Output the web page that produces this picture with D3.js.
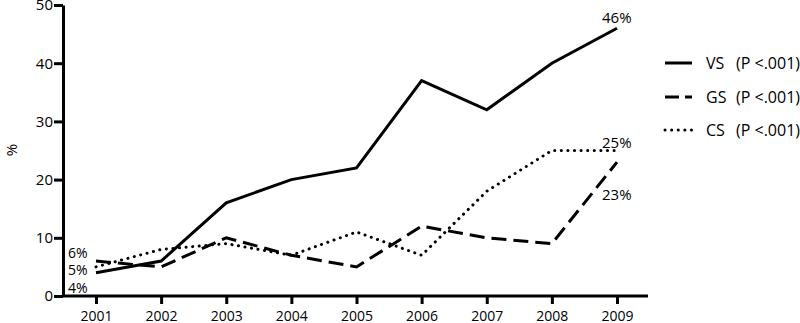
<!DOCTYPE html>
<html>
<head>
<meta charset="utf-8">
<script src="https://cdn.jsdelivr.net/npm/d3@7.9.0/dist/d3.min.js"></script>
<style>
  body { margin: 0; background: #fff; }
  svg { display: block; font-family: "Open Sans", sans-serif; }
  .axis path, .axis line { stroke: #000; stroke-width: 3; }
</style>
</head>
<body>
<svg id="chart" width="800" height="323"></svg>
<script>
// data
const years = [2001, 2002, 2003, 2004, 2005, 2006, 2007, 2008, 2009];
const vs = [4, 6, 16, 20, 22, 37, 32, 40, 46];
const gs = [6, 5, 10, 7, 5, 12, 10, 9, 23];
const cs = [5, 8, 9, 7, 11, 7, 18, 25, 25];
const seriesNames = ['VS', 'GS', 'CS'];
const pLabels = ['(P <.001)', '(P <.001)', '(P <.001)'];
const yTicks = [0, 10, 20, 30, 40, 50];

const svg = d3.select('#chart');

const x = d3.scaleLinear().domain([2001, 2009]).range([96, 617]);
const y = d3.scaleLinear().domain([0, 50]).range([296, 5]);

//dash styles per series
const dashes = { VS: null, GS: '15,7', CS: '0.1,6.5' };

const series = [
    { name: 'VS', values: vs },
    { name: 'GS', values: gs },
    { name: 'CS', values: cs }
];

//axes
svg.append('g')
    .attr('class', 'axis')
    .attr('transform', 'translate(63,0)')
    .call(d3.axisLeft(y).tickValues(yTicks).tickSize(9).tickSizeOuter(0).tickPadding(1))
    .call(g => g.attr('font-size', 15).attr('font-family', null))
    .call(g => g.selectAll('text').attr('fill', '#000'));

svg.append('g')
    .attr('class', 'axis')
    .attr('transform', 'translate(0,296)')
    .call(d3.axisBottom(x).tickValues(years).tickFormat(d3.format('d')).tickSize(8).tickSizeOuter(0).tickPadding(7))
    .call(g => g.attr('font-size', 14).attr('font-family', null))
    .call(g => g.selectAll('text').attr('fill', '#000'))
    .call(g => g.select('.domain').attr('d', 'M63,0H648'));

svg.append('text')
    .attr('transform', 'translate(17,150) rotate(-90)')
    .attr('text-anchor', 'middle')
    .attr('font-size', 15)
    .text('%');

//lines
const line = d3.line()
    .x((d, i) => x(years[i]))
    .y(d => y(d));

series.forEach(s => {
    svg.append('path')
        .datum(s.values)
        .attr('d', line)
        .attr('fill', 'none')
        .attr('stroke', '#000')
        .attr('stroke-width', 3)
        .attr('stroke-linecap', s.name === 'CS' ? 'round' : 'butt')
        .attr('stroke-dasharray', dashes[s.name]);
});

//end value labels
const labelStyle = sel => sel.attr('font-size', 15).attr('fill', '#000');
svg.append('text').attr('x', 602).attr('y', y(vs[8]) - 5).text(vs[8] + '%').call(labelStyle);
svg.append('text').attr('x', 602).attr('y', y(cs[8]) - 3).text(cs[8] + '%').call(labelStyle);
svg.append('text').attr('x', 602).attr('y', y(gs[8]) + 38).text(gs[8] + '%').call(labelStyle);

//start value labels, stacked tightly like the original
const startStyle = sel => sel.attr('font-size', 14).attr('fill', '#000');
svg.append('text').attr('x', 68).attr('y', 258).text(gs[0] + '%').call(startStyle);
svg.append('text').attr('x', 68).attr('y', 275).text(cs[0] + '%').call(startStyle);
svg.append('text').attr('x', 68).attr('y', 293).text(vs[0] + '%').call(startStyle);

//legend
const legendY = [63, 97, 130];
series.forEach((s, i) => {
    const g = svg.append('g').attr('transform', `translate(0,${legendY[i]})`);
    g.append('line')
        .attr('x1', 665).attr('x2', 692)
        .attr('stroke', '#000').attr('stroke-width', 3)
        .attr('stroke-linecap', s.name === 'CS' ? 'round' : 'butt')
        .attr('stroke-dasharray', s.name === 'GS' ? '14,6' : dashes[s.name]);
    g.append('text')
        .attr('x', 706).attr('y', 6)
        .attr('font-size', 16)
        .text(seriesNames[i]);
    g.append('text')
        .attr('x', 736).attr('y', 6)
        .attr('font-size', 16)
        .text(pLabels[i]);
});
</script>
</body>
</html>
